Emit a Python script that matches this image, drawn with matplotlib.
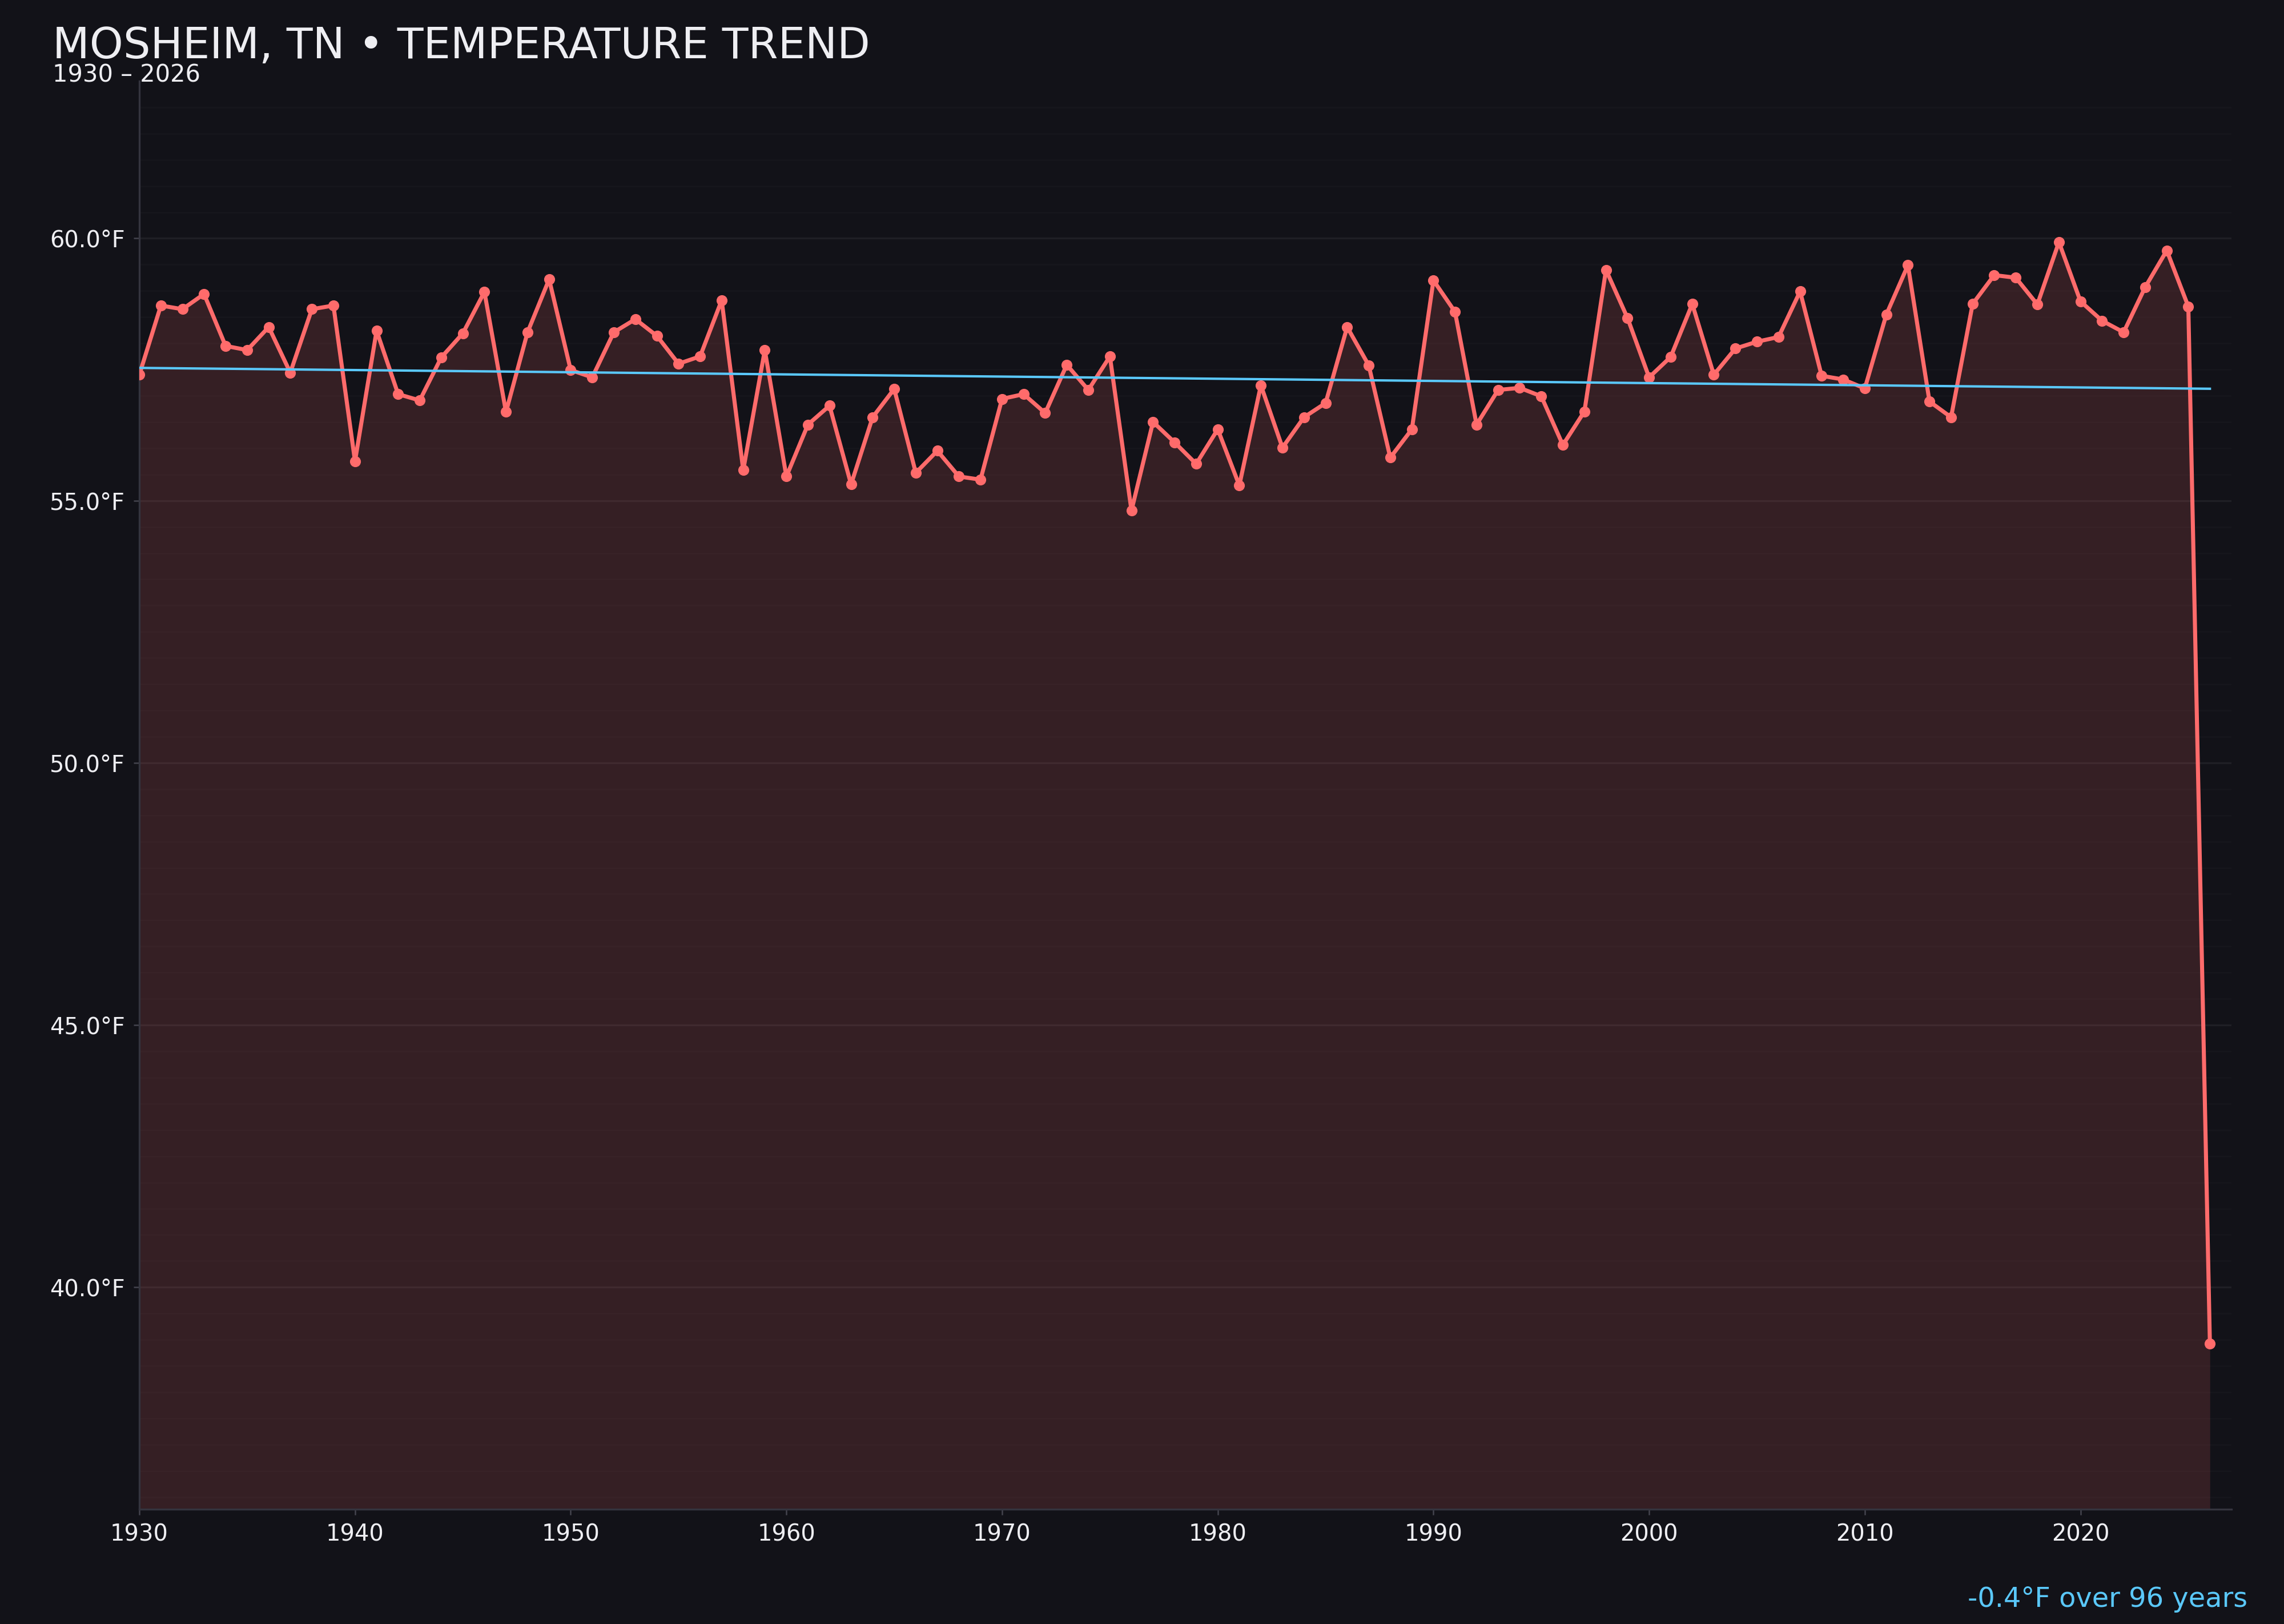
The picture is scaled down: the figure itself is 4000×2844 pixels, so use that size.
import matplotlib
matplotlib.use("Agg")
import matplotlib.pyplot as plt
from matplotlib.ticker import MultipleLocator, FuncFormatter
import numpy as np

# annual mean temperature, Mosheim TN
years = np.arange(1930, 2027)
temps = [
    57.40, 58.72, 58.65, 58.94, 57.95, 57.87, 58.31, 57.44, 58.65, 58.72,
    55.75, 58.24, 57.03, 56.91, 57.73, 58.19, 58.98, 56.69, 58.21, 59.22,
    57.49, 57.35, 58.21, 58.46, 58.14, 57.61, 57.75, 58.82, 55.58, 57.87,
    55.46, 56.45, 56.81, 55.31, 56.59, 57.13, 55.53, 55.95, 55.46, 55.40,
    56.94, 57.03, 56.67, 57.59, 57.11, 57.75, 54.81, 56.50, 56.11, 55.70,
    56.36, 55.29, 57.20, 56.01, 56.59, 56.86, 58.31, 57.58, 55.82, 56.36,
    59.20, 58.60, 56.45, 57.11, 57.15, 56.99, 56.06, 56.70, 59.40, 58.48,
    57.35, 57.74, 58.75, 57.40, 57.90, 58.03, 58.12, 58.99, 57.38, 57.31,
    57.14, 58.55, 59.49, 56.89, 56.59, 58.75, 59.30, 59.25, 58.74, 59.93,
    58.80, 58.43, 58.21, 59.07, 59.77, 58.70, 38.92,
]
temps = np.array(temps)

title = "MOSHEIM, TN \u2022 TEMPERATURE TREND"
subtitle = f"{years[0]} \u2013 {years[-1]}"

bg = "#121218"
red = "#FF6B6B"
blue = "#5AC8FA"
txt = "#EEEEF2"

fig = plt.figure(figsize=(4000 / 300, 2844 / 300), dpi=300, facecolor=bg)
ax = fig.add_axes([0.061, 0.0707, 0.916, 0.8793])
ax.set_facecolor(bg)

rng = temps.max() - temps.min()
ymin = temps.min() - 0.15 * rng
ymax = temps.max() + 0.146 * rng

ax.fill_between(years, temps, ymin, color=red, alpha=0.15, linewidth=0, zorder=1)
ax.plot(years, temps, color=red, linewidth=1.7, marker="o", markersize=3.6, zorder=3)

# linear trend
slope, icpt = np.polyfit(years, temps, 1)
trend = slope * years + icpt
ax.plot(years, trend, color=blue, linewidth=1.0, zorder=4)
change = trend[-1] - trend[0]

ax.set_xlim(1930, 2027)
ax.set_ylim(ymin, ymax)
ax.xaxis.set_major_locator(MultipleLocator(10))
ax.yaxis.set_major_locator(MultipleLocator(5))
ax.yaxis.set_minor_locator(MultipleLocator(0.5))
ax.yaxis.set_major_formatter(FuncFormatter(lambda v, p: f"{v:.1f}\u00b0F"))

ax.grid(axis="y", which="major", color="white", alpha=0.06, linewidth=0.8)
ax.grid(axis="y", which="minor", color="white", alpha=0.02, linewidth=0.6)
ax.set_axisbelow(True)

for s in ["top", "right"]:
    ax.spines[s].set_visible(False)
for s in ["left", "bottom"]:
    ax.spines[s].set_color("#34343e")
    ax.spines[s].set_linewidth(0.8)

ax.tick_params(axis="both", which="major", colors="#44444e", labelcolor=txt,
               labelsize=9.6, length=2.5, width=0.6)
ax.tick_params(axis="y", which="minor", length=0)

fig.text(0.023, 0.964, title, color=txt, fontsize=18, ha="left", va="baseline")
fig.text(0.023, 0.9497, subtitle, color=txt, fontsize=10, ha="left", va="baseline")
fig.text(0.984, 0.0105, f"{change:.1f}\u00b0F over {years[-1] - years[0]} years",
         color=blue, fontsize=11.5, ha="right", va="baseline")

fig.savefig("out.png", dpi=300, facecolor=bg)
